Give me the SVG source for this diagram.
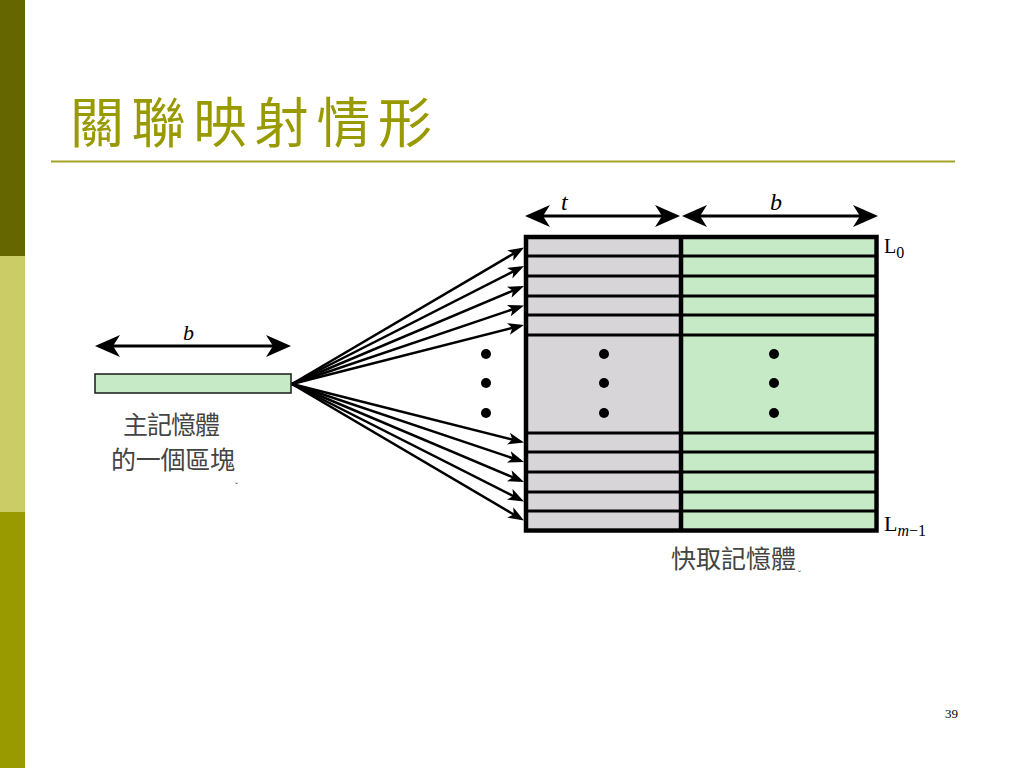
<svg xmlns="http://www.w3.org/2000/svg" width="1024" height="768" viewBox="0 0 1024 768">
  <style>
    .cjk { font-family: "Noto Sans CJK TC", "Noto Sans CJK SC", sans-serif; }
    .lbl { font-family: "Noto Sans CJK TC", "Noto Sans CJK SC", sans-serif; font-size: 25px; fill: #444444; }
    .mark { font-family: "Liberation Sans", sans-serif; font-size: 9px; fill: #444444; }
    .it { font-family: "Liberation Serif", serif; font-style: italic; fill: #000; }
    .rm { font-family: "Liberation Serif", serif; fill: #000; }
    .row { stroke: #000; stroke-width: 3; }
    .fan { stroke: #000; stroke-width: 2.5; fill: none; marker-end: url(#small); }
    .dim { stroke: #000; stroke-width: 3; marker-start: url(#big); marker-end: url(#big); }
    .dot { fill: #000; }
  </style>
  <defs>
    <marker id="big" viewBox="0 0 25 22" refX="15" refY="11" markerWidth="25" markerHeight="22" markerUnits="userSpaceOnUse" orient="auto-start-reverse">
      <path d="M0,0 L25,11 L0,22 L7,11 Z" fill="#000"/>
    </marker>
    <marker id="small" viewBox="0 0 16 12" refX="12" refY="6" markerWidth="16" markerHeight="12" markerUnits="userSpaceOnUse" orient="auto">
      <path d="M0,0 L16,6 L0,12 L4,6 Z" fill="#000"/>
    </marker>
  </defs>

  <rect width="1024" height="768" fill="#ffffff"/>

  <!-- left decorative bar -->
  <g id="sidebar">
    <rect x="0" y="0" width="25" height="256" fill="#666600"/>
    <rect x="0" y="256" width="25" height="256" fill="#CCCC66"/>
    <rect x="0" y="512" width="25" height="256" fill="#999900"/>
  </g>

  <!-- title -->
  <g id="title">
    <text x="70" y="143" class="cjk" font-size="54" fill="#999900" textLength="362" lengthAdjust="spacing">關聯映射情形</text>
    <rect x="51" y="160.5" width="904" height="2" fill="#A3A325"/>
  </g>

  <!-- main memory block -->
  <g id="main-block">
    <rect x="95" y="374" width="196" height="19" fill="#C6E9C6" stroke="#1a1a1a" stroke-width="1.5"/>
    <line class="dim" x1="105" y1="346" x2="281" y2="346"/>
    <text x="183" y="340" class="it" font-size="22">b</text>
    <text x="123" y="434" class="lbl" font-size="23" textLength="97" lengthAdjust="spacing">主記憶體</text>
    <text x="111" y="469" class="lbl" font-size="23" textLength="124" lengthAdjust="spacing">的一個區塊</text>
    <text x="235" y="489" class="mark">ˇ</text>
  </g>

  <!-- cache -->
  <g id="cache">
    <rect x="528" y="239" width="151" height="289" fill="#D8D5D8"/>
    <rect x="683" y="239" width="191" height="289" fill="#C6E9C6"/>
    <g>
      <line class="row" x1="526" y1="256" x2="876" y2="256"/>
      <line class="row" x1="526" y1="276" x2="876" y2="276"/>
      <line class="row" x1="526" y1="296" x2="876" y2="296"/>
      <line class="row" x1="526" y1="315" x2="876" y2="315"/>
      <line class="row" x1="526" y1="335" x2="876" y2="335"/>
      <line class="row" x1="526" y1="433" x2="876" y2="433"/>
      <line class="row" x1="526" y1="452" x2="876" y2="452"/>
      <line class="row" x1="526" y1="472" x2="876" y2="472"/>
      <line class="row" x1="526" y1="492" x2="876" y2="492"/>
      <line class="row" x1="526" y1="511" x2="876" y2="511"/>
    </g>
    <line x1="681" y1="237" x2="681" y2="531" stroke="#000" stroke-width="4.5"/>
    <rect x="526" y="237" width="350.5" height="293.5" fill="none" stroke="#000" stroke-width="4.5"/>
    <circle class="dot" cx="604" cy="354" r="5"/>
    <circle class="dot" cx="604" cy="383" r="5"/>
    <circle class="dot" cx="604" cy="413" r="5"/>
    <circle class="dot" cx="774" cy="354" r="5"/>
    <circle class="dot" cx="774" cy="383" r="5"/>
    <circle class="dot" cx="774" cy="413" r="5"/>
    <line class="dim" x1="535" y1="216" x2="670" y2="216"/>
    <line class="dim" x1="692" y1="216" x2="868" y2="216"/>
    <text x="561" y="210" class="it" font-size="24">t</text>
    <text x="770" y="210" class="it" font-size="24">b</text>
    <text x="884" y="253" class="rm" font-size="20">L<tspan font-size="16" dy="5">0</tspan></text>
    <text x="884" y="531" class="rm" font-size="22">L<tspan class="it" font-size="16" dy="5">m</tspan><tspan font-size="16">−1</tspan></text>
    <text x="671" y="568" class="lbl" font-size="26">快取記憶體</text>
    <text x="798" y="577" class="mark">ˇ</text>
  </g>

  <!-- connectors -->
  <g id="connectors">
    <line class="fan" x1="292" y1="384" x2="520.55" y2="249.53"/>
    <line class="fan" x1="292" y1="384" x2="520.44" y2="267.81"/>
    <line class="fan" x1="292" y1="384" x2="520.31" y2="287.56"/>
    <line class="fan" x1="292" y1="384" x2="520.21" y2="306.78"/>
    <line class="fan" x1="292" y1="384" x2="520.12" y2="325.99"/>
    <line class="fan" x1="292" y1="384" x2="520.12" y2="441.52"/>
    <line class="fan" x1="292" y1="384" x2="520.21" y2="460.73"/>
    <line class="fan" x1="292" y1="384" x2="520.31" y2="480.44"/>
    <line class="fan" x1="292" y1="384" x2="520.43" y2="499.69"/>
    <line class="fan" x1="292" y1="384" x2="520.55" y2="518.47"/>
    <circle class="dot" cx="486" cy="354" r="5"/>
    <circle class="dot" cx="486" cy="383" r="5"/>
    <circle class="dot" cx="486" cy="413" r="5"/>
  </g>

  <text x="945" y="718" class="rm" font-size="13" fill="#333333">39</text>
</svg>
